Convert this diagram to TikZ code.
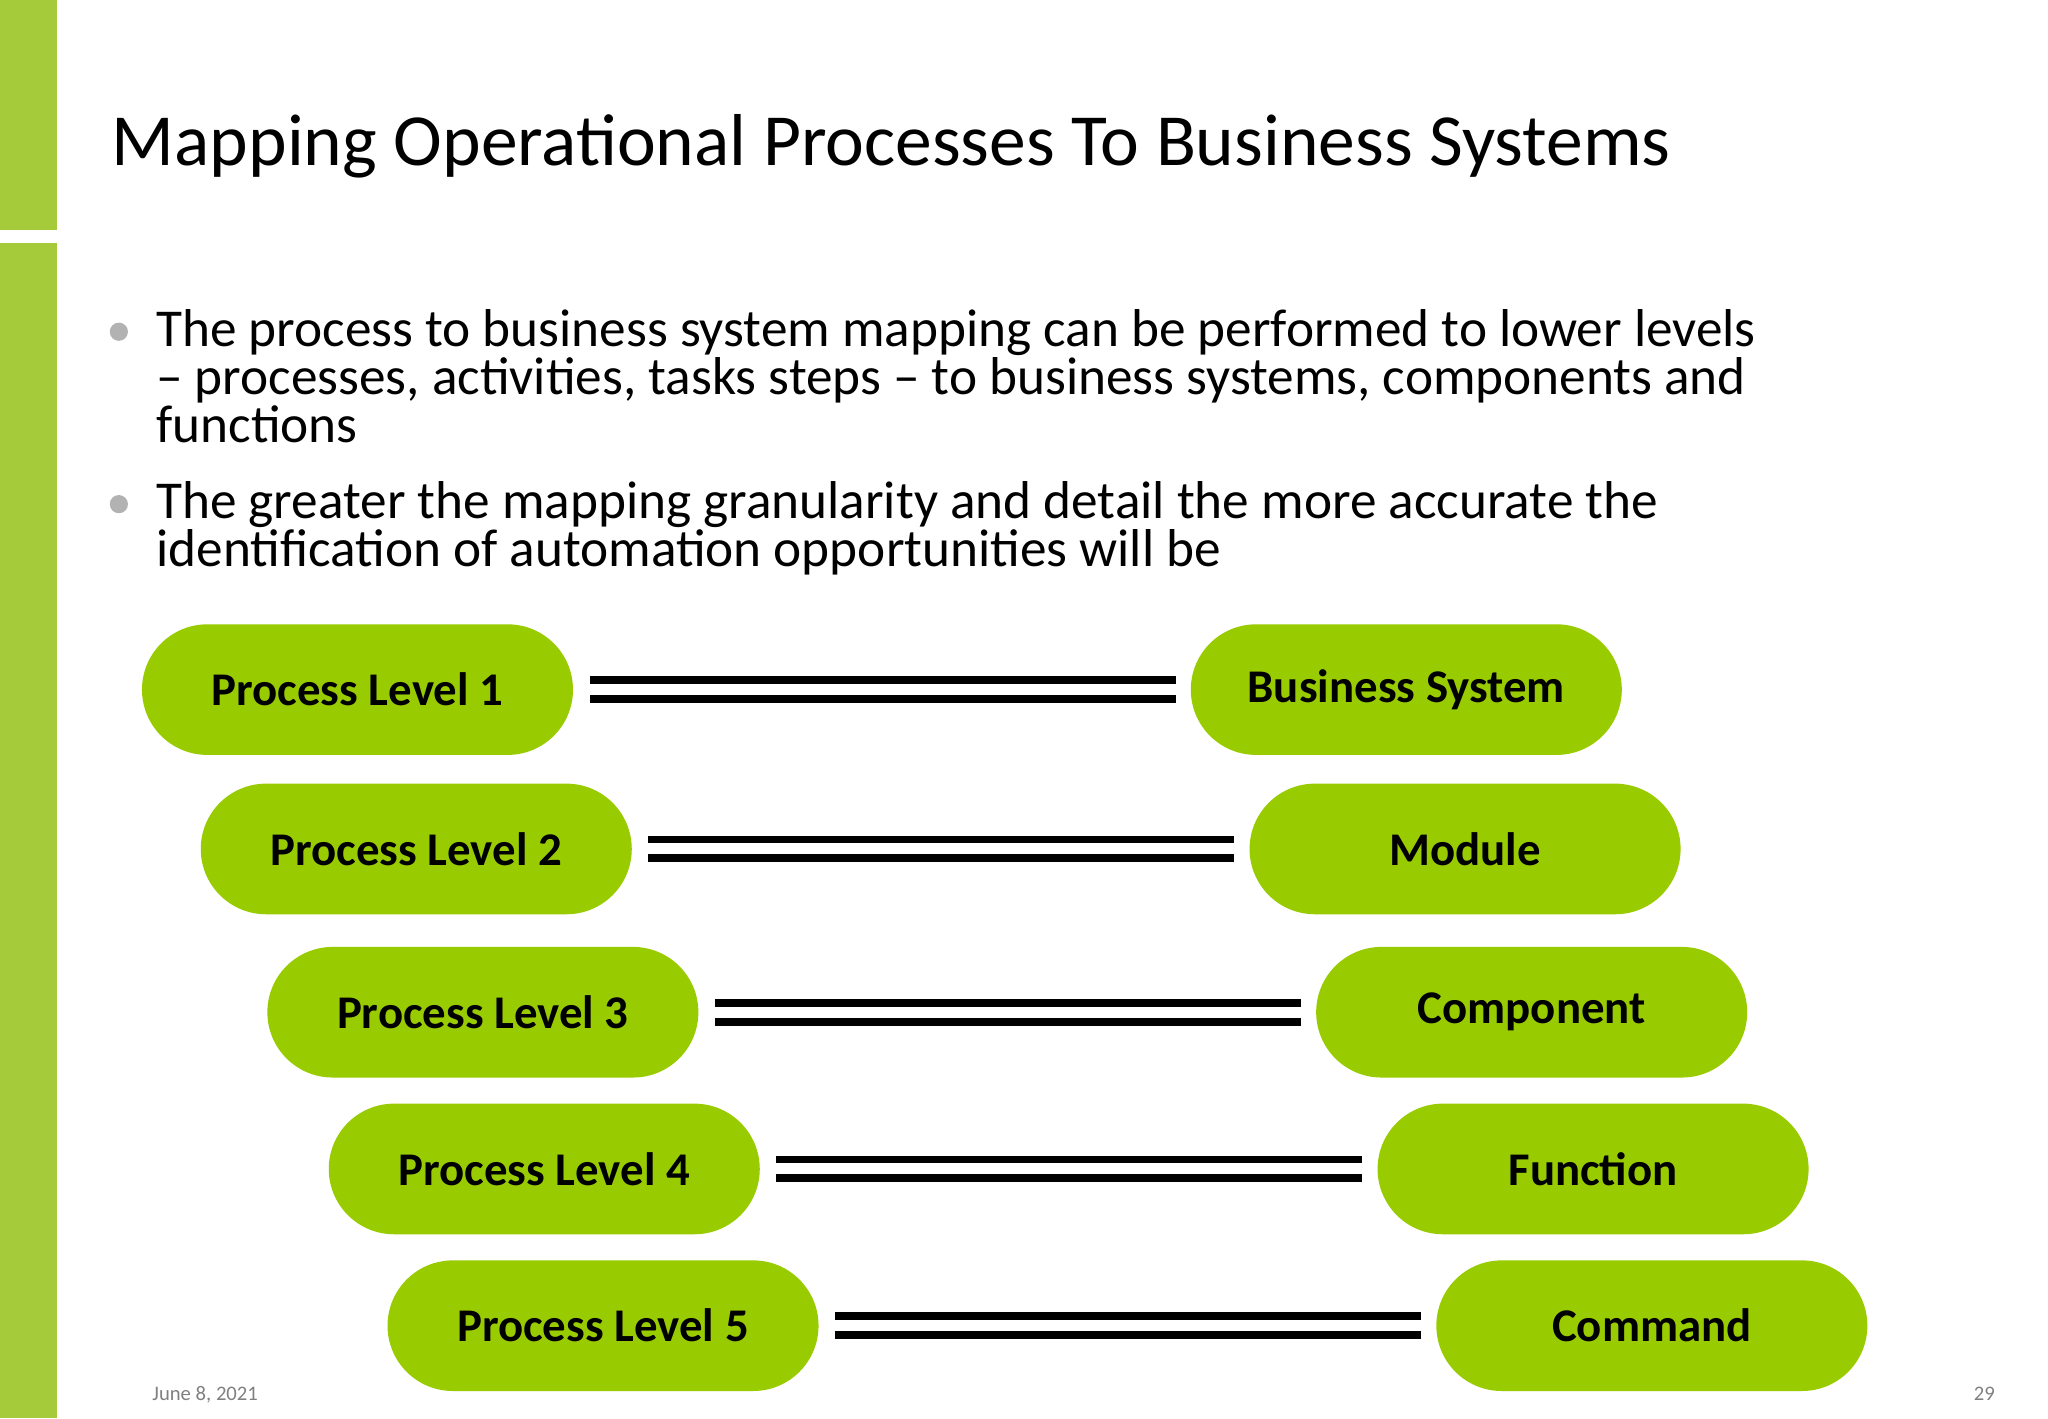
\documentclass[tikz,border=0pt]{standalone}
\usepackage{fontspec}
\setmainfont{Carlito}
\definecolor{bar}{HTML}{A6CB3A}
\definecolor{pill}{HTML}{99CC00}
\begin{document}
\begin{tikzpicture}[x=0.01cm,y=-0.01cm,
  pillbox/.style={fill=pill,rounded corners=50*0.01cm,minimum width=330*0.01cm,minimum height=100*0.01cm,inner sep=0pt,font=\bfseries\fontsize{10.2}{12}\selectfont},
  body/.style={anchor=base west,inner sep=0pt,font=\fontsize{11.6}{13}\selectfont},
  link/.style={line width=1.7pt,double distance=2.4pt,double=white,shorten >=11*0.01cm,shorten <=12*0.01cm}]
\useasboundingbox (0,0) rectangle (1568,1086);
\fill[white] (0,0) rectangle (1568,1086);
\fill[bar] (0,0) rectangle (44,176);
\fill[bar] (0,186) rectangle (44,1086);
\node[anchor=base west,inner sep=0pt,font=\fontsize{16}{19}\selectfont] (title) at (85,127) {Mapping Operational Processes To Business Systems};
\node[circle,fill=gray!60,inner sep=1.4pt] (d1) at (91,254) {};
\node[circle,fill=gray!60,inner sep=1.4pt] (d2) at (91,386) {};
\node[body] (l1) at (119,265) {The process to business system mapping can be performed to lower levels};
\node[body] (l2) at (119,302) {– processes, activities, tasks steps – to business systems, components and};
\node[body] (l3) at (119,339) {functions};
\node[body] (l4) at (119,397) {The greater the mapping granularity and detail the more accurate the};
\node[body] (l5) at (119,434) {identification of automation opportunities will be};
\foreach \i/\y/\xl/\xr/\tl/\tr in {1/528/108/911/Process Level 1/Business System,
  2/650/153/956/Process Level 2/Module,
  3/775/204/1007/Process Level 3/Component,
  4/895/251/1054/Process Level 4/Function,
  5/1015/296/1099/Process Level 5/Command}{
  \node[pillbox,anchor=west] (p\i) at (\xl,\y) {\tl};
  \node[pillbox,anchor=west] (s\i) at (\xr,\y) {\tr};
  \draw[link] (p\i) -- (s\i);
}
\node[anchor=base west,inner sep=0pt,text=gray,font=\fontsize{4.5}{5}\selectfont] (date) at (116,1072) {June 8, 2021};
\node[anchor=base east,inner sep=0pt,text=gray,font=\fontsize{4.5}{5}\selectfont] (pg) at (1528,1072) {29};
\end{tikzpicture}
\end{document}
